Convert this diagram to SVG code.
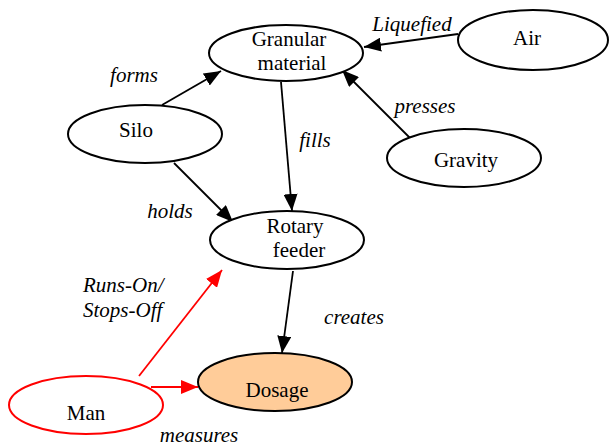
<svg xmlns="http://www.w3.org/2000/svg" width="610" height="448" viewBox="0 0 610 448">
<defs>
<marker id="ab" markerUnits="userSpaceOnUse" markerWidth="18" markerHeight="14" refX="17" refY="7" orient="auto"><path d="M0,0 L17,7 L0,14 Z" fill="#000"/></marker>
<marker id="ar" markerUnits="userSpaceOnUse" markerWidth="18" markerHeight="14" refX="17" refY="7" orient="auto"><path d="M0,0 L17,7 L0,14 Z" fill="#f00"/></marker>
</defs>
<style>
.n{fill:#fff;stroke:#000;stroke-width:2}
.t{font-family:"Liberation Serif","Times New Roman",serif;font-size:21px;fill:#000;text-anchor:middle}
.l{font-family:"Liberation Serif","Times New Roman",serif;font-size:21px;font-style:italic;fill:#000;text-anchor:middle}
.s{text-anchor:start}
.e{stroke:#000;stroke-width:1.8;fill:none;marker-end:url(#ab)}
.r{stroke:#f00;stroke-width:1.8;fill:none;marker-end:url(#ar)}
</style>
<rect width="610" height="448" fill="#fff"/>
<g id="connectors">
<line class="e" x1="458" y1="34" x2="364" y2="47"/>
<line class="e" x1="411" y1="139" x2="342" y2="70"/>
<line class="e" x1="281" y1="82" x2="292" y2="211"/>
<line class="e" x1="162" y1="105" x2="221" y2="71"/>
<line class="e" x1="174" y1="163" x2="233" y2="222"/>
<line class="e" x1="293" y1="271" x2="282" y2="353"/>
<line class="r" x1="139" y1="376" x2="222" y2="270"/>
<line class="r" x1="151" y1="387" x2="198" y2="387"/>
<text class="l" x="412" y="31">Liquefied</text>
<text class="l" x="425" y="113">presses</text>
<text class="l" x="315" y="147">fills</text>
<text class="l" x="134" y="82">forms</text>
<text class="l" x="170" y="218">holds</text>
<text class="l" x="354" y="324">creates</text>
<text class="l s" x="83" y="292">Runs-On/</text>
<text class="l s" x="83" y="317">Stops-Off</text>
<text class="l" x="199" y="442">measures</text>
</g>
<g id="granular"><ellipse class="n" cx="286" cy="53" rx="77" ry="28"/><text class="t" x="289" y="46">Granular</text><text class="t" x="292" y="70">material</text></g>
<g id="air"><ellipse class="n" cx="533" cy="40" rx="75" ry="30"/><text class="t" x="527" y="45">Air</text></g>
<g id="gravity"><ellipse class="n" cx="464" cy="158" rx="77" ry="29"/><text class="t" x="466" y="167">Gravity</text></g>
<g id="silo"><ellipse class="n" cx="145" cy="134" rx="77" ry="29"/><text class="t" x="136" y="137">Silo</text></g>
<g id="rotary"><ellipse class="n" cx="287" cy="240" rx="77" ry="29"/><text class="t" x="295" y="233">Rotary</text><text class="t" x="299" y="257">feeder</text></g>
<g id="dosage"><ellipse cx="275" cy="382" rx="77" ry="29" fill="#ffcc99" stroke="#000" stroke-width="2"/><text class="t" x="277" y="397">Dosage</text></g>
<g id="man"><ellipse cx="86" cy="405" rx="77" ry="29" fill="#fff" stroke="#f00" stroke-width="2"/><text class="t" x="86" y="420">Man</text></g>
</svg>
